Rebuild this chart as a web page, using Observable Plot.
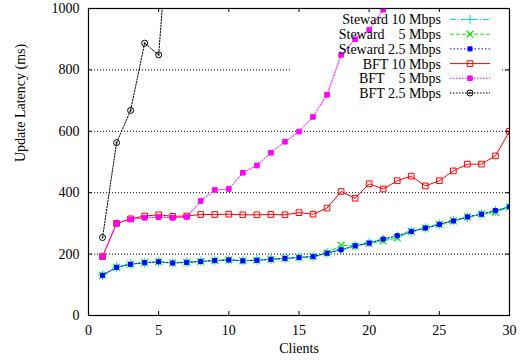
<!DOCTYPE html>
<html>
<head>
<meta charset="utf-8">
<script src="https://cdn.jsdelivr.net/npm/d3@7"></script>
<script src="https://cdn.jsdelivr.net/npm/@observablehq/plot@0.6"></script>
<style>
  html, body { margin: 0; padding: 0; background: #fff; }
  #chart { width: 524px; height: 364px; }
  #chart svg, #chart svg text { font-family: "Liberation Serif", "Times New Roman", serif !important; font-size: 14px !important; }
</style>
</head>
<body>
<div id="chart"></div>
<script>
// ---- data ----
const clients = d3.range(1, 31);
const steward10 = [132,158,168,172,175,172,174,177,179,181,179,181,183,186,189,192,204,215,227,237,248,259,273,285,297,309,320,331,341,354];
const steward5  = [131,157,167,172,175,171,173,176,179,181,178,180,183,186,189,192,203,229,226,235,243,253,274,285,297,308,321,330,336,354];
const steward25 = [131,157,167,172,175,171,173,176,179,181,178,180,183,186,189,192,203,214,227,236,249,260,274,285,297,308,321,330,342,354];
const bft10 = [192,300,315,324,328,323,324,329,329,330,328,328,329,328,335,330,350,404,382,429,412,439,454,422,439,471,493,493,520,600];
const bft5  = [192,300,313,318,320,318,321,373,409,412,465,489,530,566,599,647,719,849,900,930,996];
const bft25 = [254,563,668,887,849,1450];

const seriesNames = ["Steward 10 Mbps", "Steward\u00a0\u00a0\u00a0\u00a05 Mbps", "Steward 2.5 Mbps", "BFT 10 Mbps", "BFT\u00a0\u00a0\u00a0\u00a05 Mbps", "BFT 2.5 Mbps"];
const seriesValues = [steward10, steward5, steward25, bft10, bft5, bft25];
const xTicks = [0, 5, 10, 15, 20, 25, 30];
const yTicks = [0, 200, 400, 600, 800, 1000];
const gridValues = [200, 400, 600, 800];
const xLabel = "Clients";
const yLabel = "Update Latency (ms)";

// ---- styles ----
const styles = [
  {color: "#00e0e0", dash: "6,2,1,2", symbol: "plus",     fill: "none",    r: 3.2, sw: 1},
  {color: "#00ee00", dash: "4,2",     symbol: "times",    fill: "none",    r: 3.2, sw: 1.2},
  {color: "#0000ff", dash: "1.5,2",   symbol: "square",   fill: "#0000ff", r: 2.3, sw: 1},
  {color: "#ff0000", dash: null,      symbol: "square",   fill: "none",    r: 3.2, sw: 1},
  {color: "#ff00ff", dash: "1.5,1.5", symbol: "square",   fill: "#ff00ff", r: 2.6, sw: 1},
  {color: "#000000", dash: "1.5,1.5", symbol: "circle",   fill: "none",    r: 3.0, sw: 1}
];

const tables = seriesValues.map((vals, s) => vals.map((v, i) => ({x: clients[i], y: v, s})));

const symbolMap = {plus: d3.symbolPlus, times: d3.symbolTimes, square: d3.symbolSquare, circle: d3.symbolCircle};

// legend background (covers grid only)
const legendBg = () => {
  const g = d3.create("svg:g");
  g.append("rect").attr("x", 292).attr("y", 10).attr("width", 208).attr("height", 92).attr("fill", "#fff");
  return g.node();
};

// legend entries
const legendMark = () => {
  const g = d3.create("svg:g");
  seriesNames.forEach((name, i) => {
    const st = styles[i];
    const yy = 19.5 + i * 14.7;
    g.append("text").attr("x", 441).attr("y", yy).attr("dy", "0.35em")
      .attr("text-anchor", "end").attr("fill", "#000").text(name);
    g.append("line").attr("x1", 450).attr("x2", 490).attr("y1", yy).attr("y2", yy)
      .attr("stroke", st.color).attr("stroke-width", 1)
      .attr("stroke-dasharray", st.dash);
    g.append("path").attr("transform", `translate(470,${yy})`)
      .attr("d", d3.symbol().type(symbolMap[st.symbol]).size(Math.PI * st.r * st.r)())
      .attr("fill", st.fill).attr("stroke", st.color).attr("stroke-width", st.sw);
    if (i === 5) g.append("circle").attr("cx", 470).attr("cy", yy).attr("r", 1).attr("fill", "#000");
  });
  return g.node();
};

const dataMarks = [];
tables.forEach((t, s) => {
  const st = styles[s];
  dataMarks.push(Plot.line(t, {x: "x", y: "y", stroke: st.color, strokeWidth: 1, strokeDasharray: st.dash, clip: true}));
});
tables.forEach((t, s) => {
  const st = styles[s];
  dataMarks.push(Plot.dot(t, {x: "x", y: "y", symbol: st.symbol, r: st.r, stroke: st.color, fill: st.fill, strokeWidth: st.sw, clip: true}));
  if (s === 5) dataMarks.push(Plot.dot(t, {x: "x", y: "y", r: 1, fill: "#000", clip: true}));
});

const chart = Plot.plot({
  width: 524,
  height: 364,
  marginLeft: 88,
  marginRight: 15,
  marginTop: 8,
  marginBottom: 49,
  style: {fontFamily: "Liberation Serif, serif", fontSize: "14px", background: "#fff", color: "#000"},
  x: {domain: [0, 30]},
  y: {domain: [0, 1000]},
  marks: [
    Plot.ruleY(gridValues, {stroke: "#000", strokeDasharray: "1,2", strokeWidth: 1}),
    legendBg,
    ...dataMarks,
    legendMark,
    Plot.axisX({ticks: xTicks, anchor: "bottom", tickSize: 0, tickPadding: 10, label: null, tickFormat: d3.format("d")}),
    Plot.axisY({ticks: yTicks, anchor: "left", tickSize: 0, tickPadding: 9, label: null, tickFormat: d3.format("d")}),
    Plot.tickX(xTicks.slice(1, -1), {x: d => d, stroke: "#000", insetTop: 303}),
    Plot.tickX(xTicks.slice(1, -1), {x: d => d, stroke: "#000", insetBottom: 303}),
    Plot.tickY(yTicks.slice(1, -1), {y: d => d, stroke: "#000", insetRight: 417}),
    Plot.tickY(yTicks.slice(1, -1), {y: d => d, stroke: "#000", insetLeft: 417}),
    Plot.frame({stroke: "#000", strokeWidth: 1.2}),
    Plot.text([xLabel], {frameAnchor: "bottom", text: d => d, dy: 37}),
    Plot.text([yLabel], {frameAnchor: "left", text: d => d, rotate: -90, dx: -68})
  ]
});
document.getElementById("chart").appendChild(chart);
</script>
</body>
</html>
